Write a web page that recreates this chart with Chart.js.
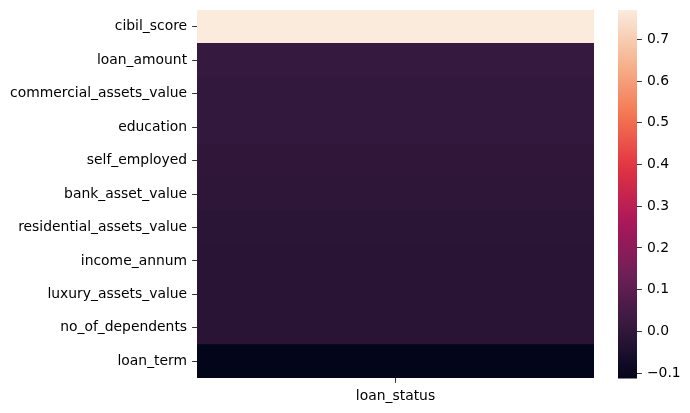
<!DOCTYPE html>
<html>
<head>
<meta charset="utf-8">
<script src="https://cdn.jsdelivr.net/npm/chart.js@4.4.1/dist/chart.umd.min.js"></script>
<style>
  html, body { margin: 0; padding: 0; background: #fff; }
  #wrap { position: relative; width: 690px; height: 413px; }
  #main { position: absolute; left: 0; top: 0; }
  #cbar { position: absolute; left: 618px; top: 0; }
</style>
</head>
<body>
<div id="wrap">
  <canvas id="main" width="690" height="413"></canvas>
  <canvas id="cbar" width="72" height="413"></canvas>
</div>
<script>
// ---- data ----
const features = ['cibil_score', 'loan_amount', 'commercial_assets_value', 'education', 'self_employed',
  'bank_asset_value', 'residential_assets_value', 'income_annum', 'luxury_assets_value',
  'no_of_dependents', 'loan_term'];
const columnLabels = ['loan_status'];
const corrValues = [0.7705, 0.0162, 0.0082, 0.0049, 0.0003, -0.0068, -0.0144, -0.0152, -0.0155, -0.0181, -0.1130];
const colorbarTicks = [-0.1, 0.0, 0.1, 0.2, 0.3, 0.4, 0.5, 0.6, 0.7];

// ---- colormap (seaborn "rocket") ----
const rocketStops = [
  [0 / 7, [3, 5, 26]],
  [1 / 7, [53, 25, 62]],
  [2 / 7, [112, 31, 87]],
  [3 / 7, [173, 23, 89]],
  [4 / 7, [225, 51, 66]],
  [5 / 7, [243, 118, 81]],
  [6 / 7, [246, 180, 143]],
  [7 / 7, [250, 235, 221]]
];
function rocket(t) {
  t = Math.max(0, Math.min(1, t));
  for (let i = 1; i < rocketStops.length; i++) {
    const [p1, c1] = rocketStops[i];
    const [p0, c0] = rocketStops[i - 1];
    if (t <= p1) {
      const f = (t - p0) / (p1 - p0);
      const c = c0.map((v, k) => Math.round(v + (c1[k] - v) * f));
      return `rgb(${c[0]},${c[1]},${c[2]})`;
    }
  }
  return 'rgb(250,235,221)';
}
const vmin = Math.min(...corrValues);
const vmax = Math.max(...corrValues);
const norm = v => (v - vmin) / (vmax - vmin);

const FONT = { family: 'DejaVu Sans', size: 13.9 };
const TICK = 4.9;

// ---- main heatmap ----
new Chart(document.getElementById('main'), {
  type: 'bar',
  data: {
    labels: features,
    datasets: [{
      data: corrValues.map(() => [0, 1]),
      backgroundColor: corrValues.map(v => rocket(norm(v))),
      borderWidth: 0,
      barPercentage: 1,
      categoryPercentage: 1,
      xAxisID: 'x'
    }]
  },
  options: {
    indexAxis: 'y',
    responsive: false,
    animation: false,
    events: [],
    layout: { padding: { left: 0, top: 10, right: 96, bottom: 0 } },
    plugins: { legend: { display: false }, tooltip: { enabled: false } },
    scales: {
      x: { type: 'linear', min: 0, max: 1, display: false },
      x2: {
        type: 'category',
        labels: columnLabels,
        position: 'bottom',
        offset: true,
        border: { display: false },
        grid: { offset: false, drawOnChartArea: false, tickLength: TICK, color: '#000', tickWidth: 0.8 },
        ticks: { font: FONT, color: '#000', padding: 5 },
        afterFit: s => { s.height = 35; s.paddingLeft = 0; s.paddingRight = 0; }
      },
      y: {
        type: 'category',
        offset: true,
        border: { display: false },
        grid: { offset: false, drawOnChartArea: false, tickLength: TICK, color: '#000', tickWidth: 0.8 },
        ticks: { font: FONT, color: '#000', padding: 5, autoSkip: false },
        afterFit: s => { s.width = 197; s.paddingTop = 0; s.paddingBottom = 0; }
      }
    }
  }
});

// ---- colorbar ----
const gradientPlugin = {
  id: 'gradientBar',
  beforeDatasetsDraw(chart) {
    const { ctx, chartArea } = chart;
    const ys = chart.scales.y;
    const top = ys.getPixelForValue(vmax);
    const bottom = ys.getPixelForValue(vmin);
    const g = ctx.createLinearGradient(0, bottom, 0, top);
    for (let i = 0; i <= 32; i++) {
      const t = i / 32;
      g.addColorStop(t, rocket(t));
    }
    ctx.save();
    ctx.fillStyle = g;
    ctx.fillRect(chartArea.left, top, chartArea.right - chartArea.left, bottom - top);
    ctx.restore();
  }
};

new Chart(document.getElementById('cbar'), {
  type: 'bar',
  data: { labels: [''], datasets: [{ data: [] }] },
  plugins: [gradientPlugin],
  options: {
    responsive: false,
    animation: false,
    events: [],
    layout: { padding: { left: 0, top: 10, right: 0, bottom: 34.5 } },
    plugins: { legend: { display: false }, tooltip: { enabled: false } },
    scales: {
      x: { display: false },
      y: {
        type: 'linear',
        position: 'right',
        min: vmin,
        max: vmax,
        border: { display: false },
        grid: { drawOnChartArea: false, tickLength: TICK, color: '#000', tickWidth: 0.8 },
        afterBuildTicks: s => { s.ticks = colorbarTicks.map(v => ({ value: v })); },
        ticks: {
          font: FONT, color: '#000', padding: 5,
          callback: v => (v < 0 ? '\u2212' + Math.abs(v).toFixed(1) : v.toFixed(1))
        },
        afterFit: s => { s.width = 53; s.paddingTop = 0; s.paddingBottom = 0; }
      }
    }
  }
});
</script>
</body>
</html>
